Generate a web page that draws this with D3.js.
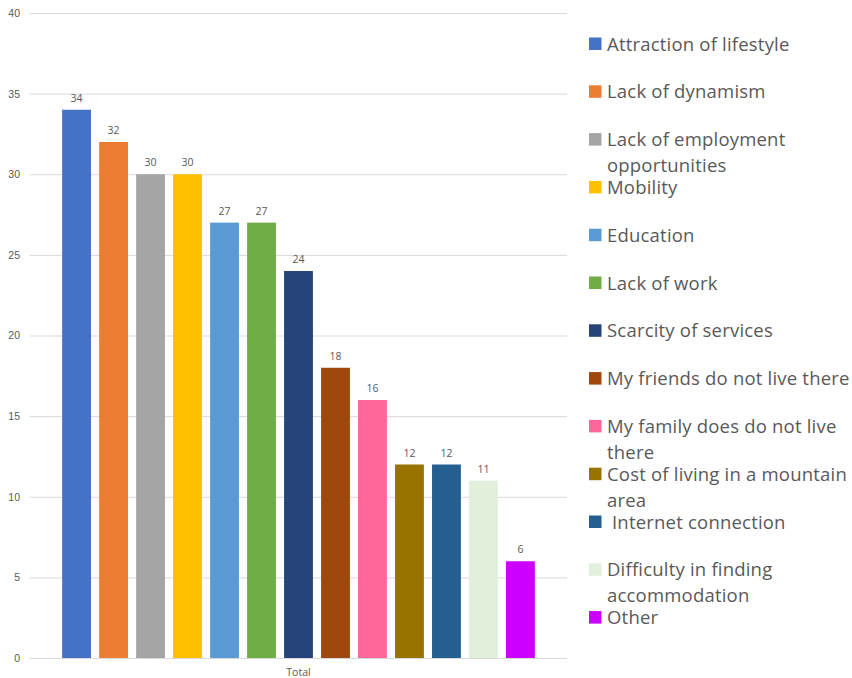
<!DOCTYPE html>
<html>
<head>
<meta charset="utf-8">
<script src="https://cdn.jsdelivr.net/npm/d3@7"></script>
<style>
  body { margin: 0; background: #fff; }
  svg { font-family: "Open Sans", Lato, sans-serif; }
</style>
</head>
<body>
<div id="chart-container"></div>
<script>
const categories = ["Total"];
const reasons = [
    "Attraction of lifestyle",
    "Lack of dynamism",
    "Lack of employment opportunities",
    "Mobility",
    "Education",
    "Lack of work",
    "Scarcity of services",
    "My friends do not live there",
    "My family does do not live there",
    "Cost of living in a mountain area",
    " Internet connection",
    "Difficulty in finding accommodation",
    "Other"
];
const values = [34, 32, 30, 30, 27, 27, 24, 18, 16, 12, 12, 11, 6];
const legendLines = [
    ["Attraction of lifestyle"],
    ["Lack of dynamism"],
    ["Lack of employment", "opportunities"],
    ["Mobility"],
    ["Education"],
    ["Lack of work"],
    ["Scarcity of services"],
    ["My friends do not live there"],
    ["My family does do not live", "there"],
    ["Cost of living in a mountain", "area"],
    [" Internet connection"],
    ["Difficulty in finding", "accommodation"],
    ["Other"]
];
const colors = ["#4472C4", "#ED7D31", "#A5A5A5", "#FFC000", "#5B9BD5", "#70AD47",
    "#264478", "#9E480E", "#FF6699", "#997300", "#255E91", "#E2EFDA", "#CC00FF"];
const yTicks = [0, 5, 10, 15, 20, 25, 30, 35, 40];

const width = 852, height = 678;
const plotLeft = 30, plotRight = 567, plotTop = 13, plotBottom = 658;
const textColor = "#595959";

const svg = d3.select("#chart-container").append("svg")
    .attr("width", width)
    .attr("height", height);

const y = d3.scaleLinear().domain([0, 40]).range([plotBottom, plotTop]);

const x0 = d3.scaleBand()
    .domain(categories)
    .range([plotLeft, plotRight])
    .paddingOuter(0.068);

const x1 = d3.scaleBand()
    .domain(reasons)
    .range([0, x0.bandwidth()])
    .paddingInner(0.22);

const color = d3.scaleOrdinal().domain(reasons).range(colors);

// gridlines + tick labels
const yAxis = d3.axisLeft(y)
    .tickValues(yTicks)
    .tickSize(-(plotRight - plotLeft))
    .tickPadding(10);

svg.append("g")
    .attr("class", "y axis")
    .attr("transform", "translate(" + plotLeft + ",0)")
    .call(yAxis)
    .call(g => g.select(".domain").remove())
    .call(g => g.selectAll("line").attr("stroke", "#d9d9d9").attr("stroke-width", 1))
    .call(g => g.selectAll("text").attr("fill", textColor).style("font-size", "10.5px"));

const group = svg.selectAll(".group")
    .data(categories)
    .enter().append("g")
    .attr("class", "group")
    .attr("transform", d => "translate(" + x0(d) + ",0)");

const barData = reasons.map((r, i) => ({ reason: r, value: values[i] }));

group.selectAll("rect")
    .data(barData)
    .enter().append("rect")
    .attr("x", d => x1(d.reason))
    .attr("y", d => y(d.value))
    .attr("width", x1.bandwidth())
    .attr("height", d => y(0) - y(d.value))
    .attr("fill", d => color(d.reason));

group.selectAll(".label")
    .data(barData)
    .enter().append("text")
    .attr("class", "label")
    .attr("x", d => x1(d.reason) + x1.bandwidth() / 2)
    .attr("y", d => y(d.value) - 8)
    .attr("text-anchor", "middle")
    .attr("fill", textColor)
    .style("font-size", "10.5px")
    .text(d => d.value);

// category axis label
svg.selectAll(".cat")
    .data(categories)
    .enter().append("text")
    .attr("class", "cat")
    .attr("x", d => x0(d) + x0.bandwidth() / 2)
    .attr("y", plotBottom + 18)
    .attr("text-anchor", "middle")
    .attr("fill", textColor)
    .style("font-size", "10.5px")
    .text(d => d);

// legend
const legendStart = 44, legendStep = 47.8;
const legend = svg.selectAll(".legend")
    .data(reasons)
    .enter().append("g")
    .attr("class", "legend")
    .attr("transform", (d, i) => "translate(589," + (legendStart + i * legendStep) + ")");

legend.append("rect")
    .attr("x", 0)
    .attr("y", -6.5)
    .attr("width", 12.5)
    .attr("height", 12.5)
    .attr("fill", d => color(d));

legend.append("text")
    .attr("x", 18)
    .attr("y", 6.5)
    .attr("fill", textColor)
    .style("font-size", "18.5px")
    .style("letter-spacing", "0.2px")
    .style("white-space", "pre")
    .each(function (d, i) {
        const t = d3.select(this);
        legendLines[i].forEach((line, k) => {
            t.append("tspan")
                .attr("x", 18)
                .attr("dy", k === 0 ? 0 : 26)
                .text(line);
        });
    });
</script>
</body>
</html>
